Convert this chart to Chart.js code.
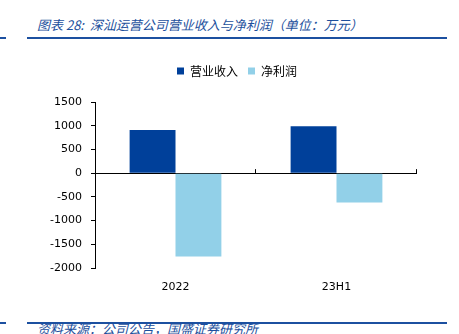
<!DOCTYPE html>
<html>
<head>
<meta charset="utf-8">
<script src="https://cdn.jsdelivr.net/npm/chart.js@4/dist/chart.umd.min.js"></script>
<style>
  body { margin: 0; background: #fff; width: 459px; height: 334px; position: relative; overflow: hidden; }
  .cap { position: absolute; left: 37px; font-family: "Noto Sans CJK SC", sans-serif; font-style: italic; color: #1c4f9c; font-size: 13px; white-space: nowrap; }
  .rule { position: absolute; height: 2px; background: #1c50a0; }
  #wrap { position: absolute; left: 0; top: 55px; width: 459px; height: 243px; }
</style>
</head>
<body>
<div class="cap" style="top:15px;">图表 28:&nbsp; 深汕运营公司营业收入与净利润（单位：万元）</div>
<div class="rule" style="left:0;width:6px;top:37px;"></div>
<div class="rule" style="left:27px;width:420px;top:37px;"></div>
<div class="rule" style="left:0;width:6px;top:322px;"></div>
<div class="rule" style="left:27px;width:420px;top:322px;"></div>
<div class="cap" style="top:319px;">资料来源：公司公告，国盛证券研究所</div>
<div id="wrap"><canvas id="c"></canvas></div>
<script>
var periods = ['2022', '23H1'];
var revenue = [910, 990];
var netProfit = [-1760, -620];
var yTicks = [1500, 1000, 500, 0, -500, -1000, -1500, -2000];

// small tick marks on the zero line at category boundaries
var zeroTicks = {
  id: 'zeroTicks',
  afterDraw: function(chart) {
    var x = chart.scales.x, y = chart.scales.y;
    var ctx = chart.ctx, y0 = y.getPixelForValue(0);
    var w = (x.right - x.left) / periods.length;
    ctx.save();
    ctx.strokeStyle = '#000';
    ctx.lineWidth = 1;
    for (var i = 1; i <= periods.length; i++) {
      var px = Math.round(x.left + i * w) - 0.5;
      ctx.beginPath();
      ctx.moveTo(px, y0);
      ctx.lineTo(px, y0 - 4);
      ctx.stroke();
    }
    ctx.restore();
  }
};

// extra room under the legend, and nudge it right
var legendSpace = {
  id: 'legendSpace',
  beforeInit: function(chart) {
    var fit = chart.legend.fit;
    chart.legend.fit = function() {
      fit.bind(chart.legend)();
      this.height += 15;
    };
  },
  afterLayout: function(chart) {
    chart.legend.left += 5;
    chart.legend.right += 5;
  }
};

new Chart(document.getElementById('c'), {
  type: 'bar',
  data: {
    labels: periods,
    datasets: [{
      label: '营业收入',
      data: revenue,
      backgroundColor: '#00409A'
    }, {
      label: '净利润',
      data: netProfit,
      backgroundColor: '#92D0E8'
    }]
  },
  options: {
    responsive: true,
    maintainAspectRatio: false,
    animation: false,
    layout: { padding: { left: 47, right: 42, top: 0, bottom: 0 } },
    datasets: { bar: { categoryPercentage: 0.57, barPercentage: 1 } },
    plugins: {
      tooltip: { enabled: false },
      legend: {
        position: 'top',
        labels: {
          boxWidth: 7,
          boxHeight: 7,
          padding: 10,
          color: '#000',
          font: { family: '"Noto Sans CJK SC"', size: 12 }
        }
      }
    },
    scales: {
      x: {
        grid: { display: false },
        border: { display: false },
        ticks: { color: '#000', padding: 5, font: { family: '"DejaVu Sans"', size: 11 } },
        afterFit: function(s) { s.height = 30; }
      },
      y: {
        min: -2000,
        max: 1500,
        afterBuildTicks: function(s) { s.ticks = yTicks.map(function(v) { return { value: v }; }); },
        border: { display: true, color: '#000', width: 1 },
        grid: {
          color: function(c) { return c.tick && c.tick.value === 0 ? '#000' : 'rgba(0,0,0,0)'; },
          tickColor: '#000',
          tickLength: 4,
          lineWidth: 1
        },
        ticks: {
          color: '#000',
          padding: 9,
          font: { family: '"DejaVu Sans"', size: 11 },
          callback: function(v) { return String(v); }
        },
        afterFit: function(s) { s.width = 48; }
      }
    }
  },
  plugins: [zeroTicks, legendSpace]
});
</script>
</body>
</html>
